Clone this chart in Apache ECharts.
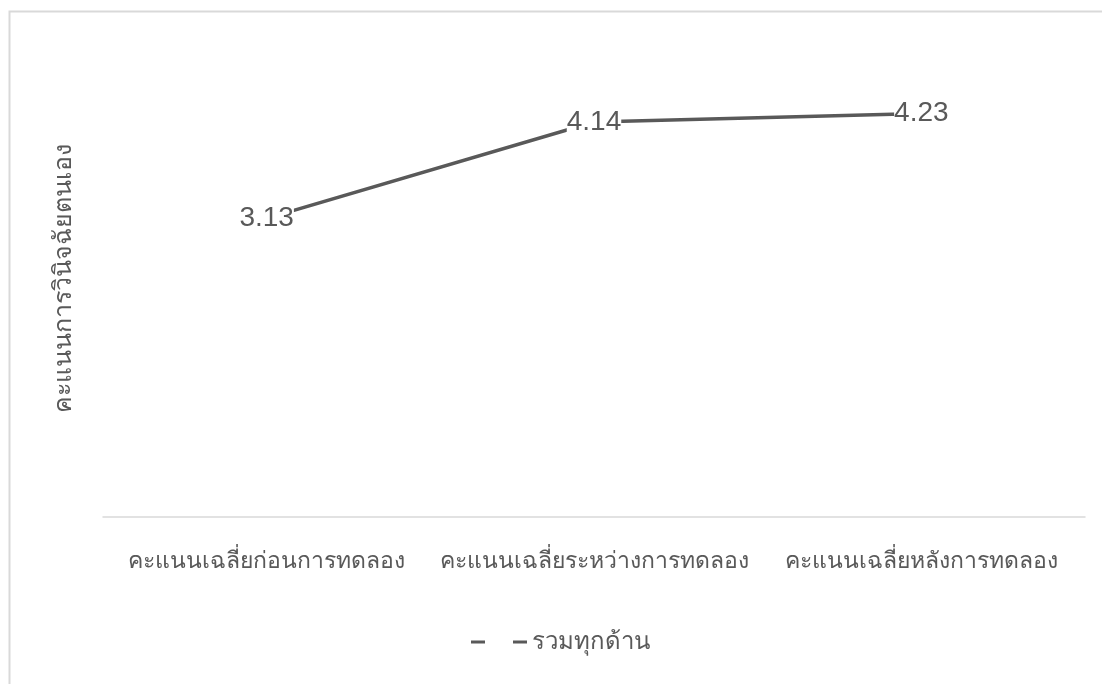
<!DOCTYPE html>
<html>
<head>
<meta charset="utf-8">
<script src="https://cdn.jsdelivr.net/npm/echarts@6/dist/echarts.min.js"></script>
<style>
  html, body { margin: 0; padding: 0; background: #fff; }
  #main { width: 1102px; height: 684px; }
</style>
</head>
<body>
<div id="main"></div>
<script>
const categories = ['คะแนนเฉลี่ยก่อนการทดลอง', 'คะแนนเฉลี่ยระหว่างการทดลอง', 'คะแนนเฉลี่ยหลังการทดลอง'];
const seriesName = 'รวมทุกด้าน';
const values = [3.13, 4.14, 4.23];
const yAxisName = 'คะแนนการวินิจฉัยตนเอง';

const font = 'Tahoma, "Liberation Sans", "Noto Sans", sans-serif';
const grey = '#595959';

const chart = echarts.init(document.getElementById('main'));
const option = {
    animation: false,
    textStyle: { fontFamily: font },
    graphic: [{
        type: 'rect',
        shape: { x: 9.5, y: 11.5, width: 1200, height: 800 },
        style: { fill: 'none', stroke: '#d9d9d9', lineWidth: 2 },
        silent: true
    }],
    grid: { left: 103, right: 17, top: 40, bottom: 167 },
    legend: {
        top: 625,
        left: 466,
        itemWidth: 56,
        itemHeight: 3,
        itemGap: 4,
        icon: 'path://M0,0 H14 V3 H0 Z M42,0 H56 V3 H42 Z',
        itemStyle: { color: grey },
        textStyle: { fontSize: 24, color: grey, fontFamily: font },
        data: [seriesName]
    },
    xAxis: {
        type: 'category',
        data: categories,
        axisTick: { show: false },
        axisLine: { lineStyle: { color: '#d9d9d9', width: 1.5 } },
        axisLabel: { fontSize: 23, color: grey, margin: 33, interval: 0, fontFamily: font }
    },
    yAxis: {
        type: 'value',
        min: 0,
        max: 5,
        axisLine: { show: false },
        axisTick: { show: false },
        axisLabel: { show: false },
        splitLine: { show: false },
        name: yAxisName,
        nameLocation: 'middle',
        nameRotate: 90,
        nameGap: 26,
        nameTextStyle: { fontSize: 25, color: grey, fontFamily: font }
    },
    series: [{
        name: seriesName,
        type: 'line',
        data: values,
        symbol: 'circle',
        symbolSize: 1,
        showSymbol: true,
        lineStyle: { color: grey, width: 3.5 },
        itemStyle: { color: grey },
        label: {
            show: true,
            position: 'inside',
            align: 'center',
            verticalAlign: 'middle',
            fontSize: 28,
            color: grey,
            fontFamily: font,
            backgroundColor: '#fff',
            padding: 0
        }
    }]
};
chart.setOption(option);
</script>
</body>
</html>
